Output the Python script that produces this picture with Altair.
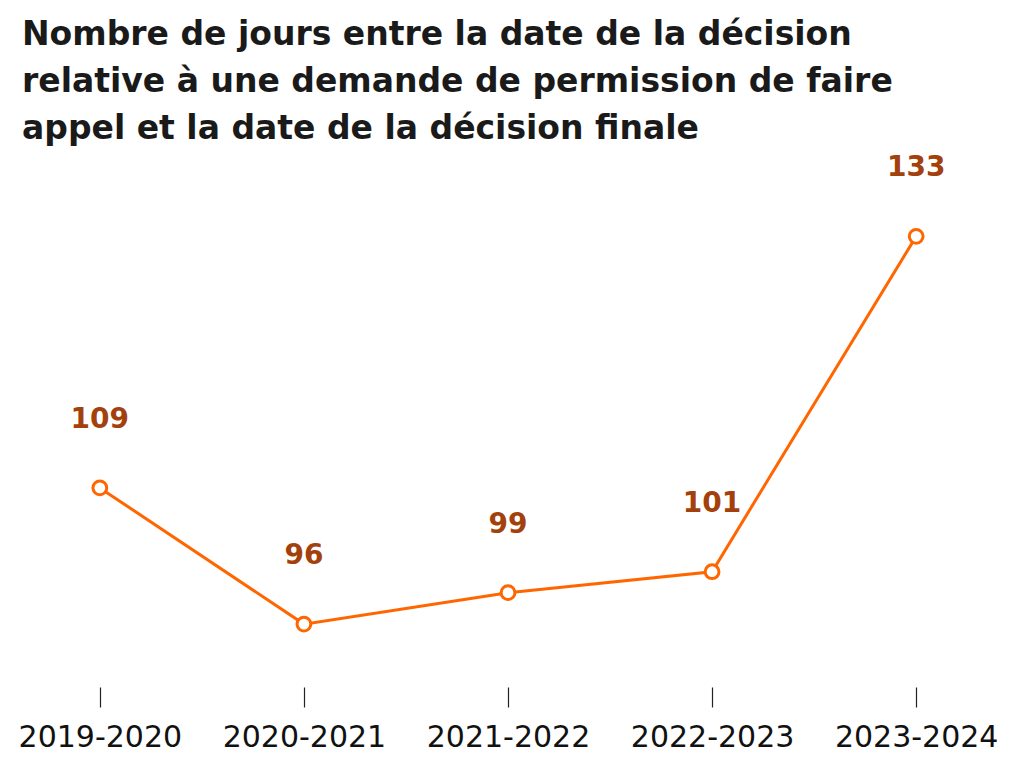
import altair as alt
import pandas as pd

years = ["2019-2020", "2020-2021", "2021-2022", "2022-2023", "2023-2024"]
days = [109, 96, 99, 101, 133]

df = pd.DataFrame({"annee": years, "jours": days})

LINE = "#FF6600"
LABEL = "#A3410C"
FONT = "DejaVu Sans"

x = alt.X("annee:N", sort=years,
          scale=alt.Scale(type="point", padding=0.45),
          axis=alt.Axis(title=None, domain=False, grid=False, ticks=True,
                        tickSize=20, tickColor="#222222", tickWidth=1.2,
                        labelFontSize=30, labelFont=FONT, labelColor="#111111",
                        labelPadding=15, labelAngle=0))
y = alt.Y("jours:Q", scale=alt.Scale(domain=[90, 140], nice=False, zero=False),
          axis=None)

base = alt.Chart(df).encode(x=x, y=y)

line = base.mark_line(color=LINE, strokeWidth=3)
pts = base.mark_point(shape="circle", size=190, filled=True, fill="white",
                      stroke=LINE, strokeWidth=3, opacity=1)
labels = base.mark_text(dy=-68, fontSize=28, font=FONT, fontWeight="bold",
                        color=LABEL).encode(text="jours:Q")

chart = (line + pts + labels).properties(
    width=1000, height=524,
    padding={"left": 0, "right": 0, "top": 11, "bottom": 2},
    title=alt.TitleParams(
        text=["Nombre de jours entre la date de la décision",
              "relative à une demande de permission de faire",
              "appel et la date de la décision finale"],
        anchor="start", frame="group", dx=14, font=FONT, fontSize=33,
        fontWeight="bold", color="#1a1a1a", lineHeight=47, offset=8),
).configure_view(stroke=None)

chart.save("out.html", embed_options={"renderer": "svg", "actions": False})
